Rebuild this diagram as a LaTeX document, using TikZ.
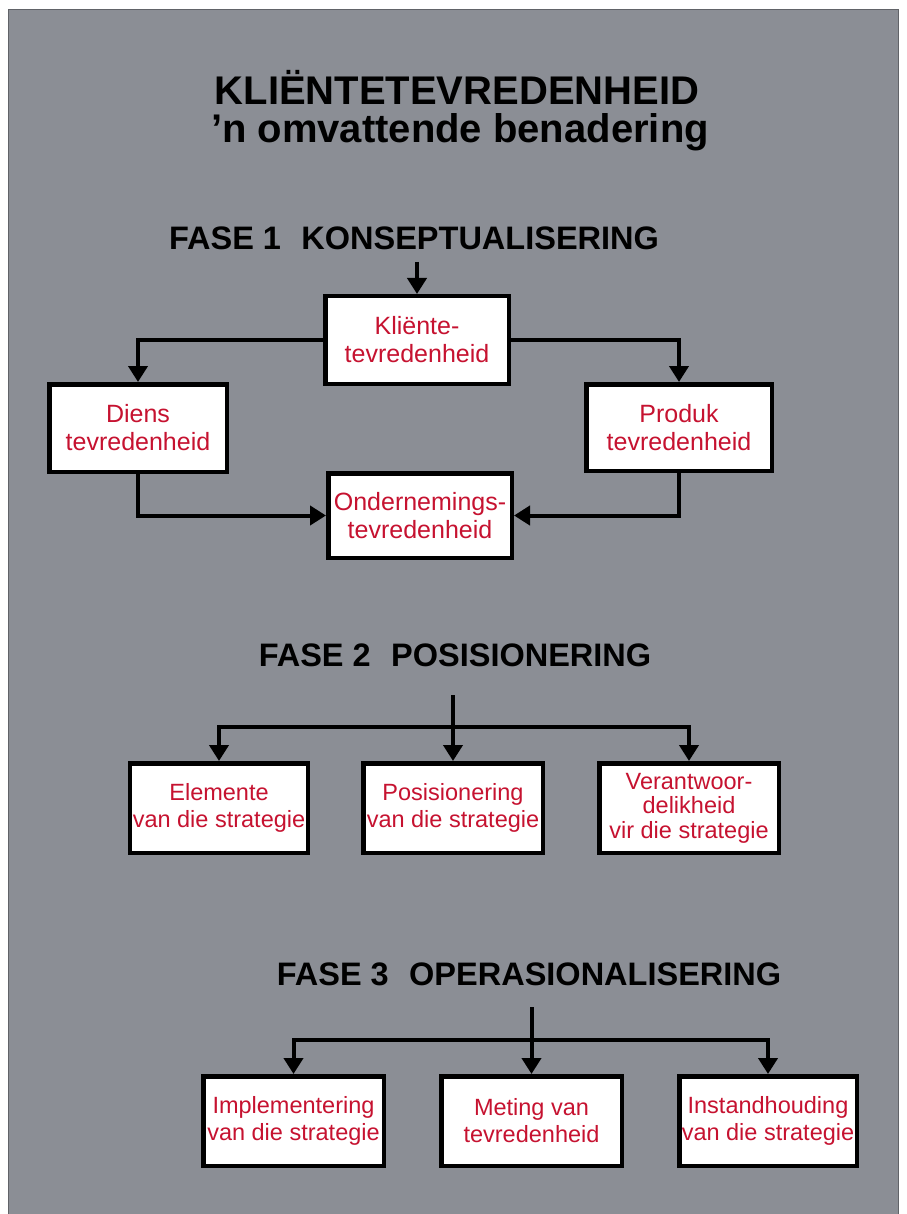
\documentclass[tikz,border=0pt]{standalone}
\usepackage{fontspec}
\setmainfont{Liberation Sans}
\usetikzlibrary{arrows.meta}
\definecolor{panelgray}{RGB}{139,142,149}
\definecolor{boxred}{RGB}{198,18,48}
\tikzset{
  box/.style={draw=black, line width=4.5pt, fill=white, inner sep=0pt,
    align=center, text=boxred, font=\fontsize{23.5}{27}\selectfont},
  bigbox/.style={box, font=\fontsize{25}{28}\selectfont},
  conn/.style={line width=4pt, draw=black},
  arr/.style={conn, -{Triangle[width=19pt,length=16pt]}},
  bigtitle/.style={anchor=base, font=\bfseries\fontsize{40}{44}\selectfont, text=black, inner sep=0pt},
  phase/.style={anchor=base, font=\bfseries\fontsize{32.5}{36}\selectfont, text=black, inner sep=0pt}
}
\begin{document}
\begin{tikzpicture}[x=1pt,y=-1pt]
\useasboundingbox (0,0) rectangle (906,1214);
\fill[white] (0,0) rectangle (906,1214);
\fill[panelgray] (8,10) rectangle (898,1214);
\draw[panelgray!70!black, line width=1pt] (8,1214) -- (8,10) -- (898,10) -- (898,1214);

% titles
\node[bigtitle] (t1) at (457,105) {KLIËNTETEVREDENHEID};
\node[bigtitle] (t2) at (460,143) {’n omvattende benadering};
\node[phase] (f1) at (414,250) {FASE 1\hspace{0.35em} KONSEPTUALISERING};
\node[phase] (f2) at (455,666) {FASE 2\hspace{0.35em} POSISIONERING};
\node[phase] (f3) at (529,985) {FASE 3\hspace{0.35em} OPERASIONALISERING};

% phase 1 boxes
\node[bigbox, minimum width=183.5pt, minimum height=87.5pt] (kl) at (417,340) {Kliënte-\\tevredenheid};
\node[bigbox, minimum width=177.5pt, minimum height=87.5pt] (diens) at (138,428) {Diens\\tevredenheid};
\node[bigbox, minimum width=185.5pt, minimum height=86.5pt] (produk) at (679,427.5) {Produk\\tevredenheid};
\node[bigbox, minimum width=183.5pt, minimum height=84.5pt] (ond) at (420,515.5) {Ondernemings-\\tevredenheid};

\coordinate (s1) at (417,262);
\draw[arr] (s1) -- (kl);
\draw[arr] (kl.west) -| (diens.north);
\draw[arr] (kl.east) -| (produk.north);
\draw[arr] (diens.south) |- (ond.west);
\draw[arr] (produk.south) |- (ond.east);

% phase 2 boxes
\node[box, minimum width=178pt, minimum height=89.5pt] (elem) at (219,808) {Elemente\\van die strategie};
\node[box, minimum width=179.5pt, minimum height=89.5pt] (pos) at (453,808) {Posisionering\\van die strategie};
\node[box, minimum width=179.5pt, minimum height=89.5pt, font=\fontsize{23.5}{24.5}\selectfont] (ver) at (689,808) {Verantwoor-\\delikheid\\vir die strategie};

\coordinate (s2) at (453,695);
\coordinate (j2) at (453,727);
\draw[arr] (s2) -- (pos);
\draw[arr] (j2) -| (elem.north);
\draw[arr] (j2) -| (ver.north);

% phase 3 boxes
\node[box, minimum width=180.5pt, minimum height=89.5pt] (impl) at (293.5,1121) {Implementering\\van die strategie};
\node[box, minimum width=180.5pt, minimum height=89.5pt] (met) at (531.5,1121) {Meting van\\tevredenheid};
\node[box, minimum width=177.5pt, minimum height=89.5pt] (inst) at (768,1121) {Instandhouding\\van die strategie};

\coordinate (s3) at (531.5,1007);
\coordinate (j3) at (531.5,1040);
\draw[arr] (s3) -- (met);
\draw[arr] (j3) -| (impl.north);
\draw[arr] (j3) -| (inst.north);
\end{tikzpicture}
\end{document}
